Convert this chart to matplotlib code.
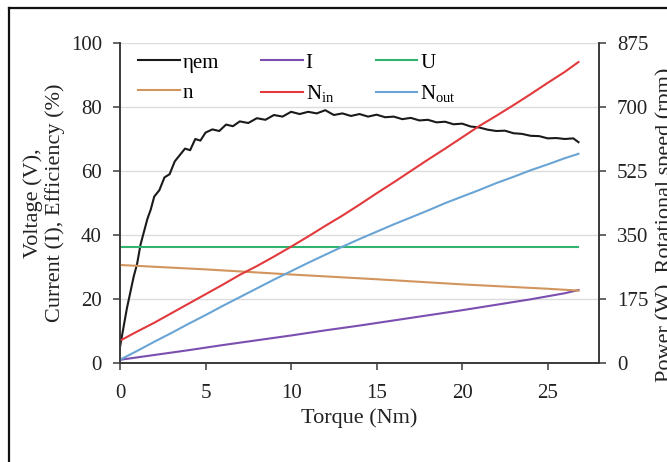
import matplotlib
matplotlib.use('Agg')
import matplotlib.pyplot as plt
from matplotlib.lines import Line2D

plt.rcParams['font.family'] = ['Liberation Serif', 'DejaVu Serif']
plt.rcParams['mathtext.fontset'] = 'custom'
plt.rcParams['mathtext.rm'] = 'Liberation Serif'

# ---- data ----
# efficiency (%), left axis
t_eta = [0, 0.2, 0.4, 0.6, 0.8, 1.0, 1.2, 1.4, 1.6, 1.8, 2.0, 2.3, 2.6, 2.9, 3.2,
         3.5, 3.8, 4.1, 4.4, 4.7, 5.0, 5.4, 5.8, 6.2, 6.6, 7.0, 7.5, 8.0, 8.5, 9.0,
         9.5, 10.0, 10.5, 11.0, 11.5, 12.0, 12.5, 13.0, 13.5, 14.0, 14.5, 15.0,
         15.5, 16.0, 16.5, 17.0, 17.5, 18.0, 18.5, 19.0, 19.5, 20.0, 20.5, 21.0,
         21.5, 22.0, 22.5, 23.0, 23.5, 24.0, 24.5, 25.0, 25.5, 26.0, 26.5, 26.8]
eta = [5, 11, 17, 22, 27, 31, 37, 41, 45, 48, 52, 54, 58, 59, 63,
       65, 67, 66.5, 70, 69.5, 72, 73, 72.5, 74.5, 74, 75.5, 75, 76.5, 76, 77.5,
       77, 78.5, 77.8, 78.5, 78, 79, 77.5, 78, 77.2, 77.8, 77, 77.6,
       76.8, 77, 76.2, 76.6, 75.8, 76, 75.2, 75.4, 74.6, 74.8, 73.9, 73.6,
       72.9, 72.5, 72.6, 71.8, 71.6, 71, 70.9, 70.2, 70.3, 70, 70.2, 69]

# current (A), left axis
t_i = [0, 2, 4, 6, 8, 10, 12, 14, 16, 18, 20, 22, 24, 26, 26.8]
current = [1, 2.5, 4, 5.6, 7.1, 8.6, 10.2, 11.7, 13.3, 14.9, 16.5, 18.2, 19.9, 21.8, 22.8]

# voltage (V), left axis
t_u = [0, 26.8]
voltage = [36.1, 36.1]

# speed (rpm), right axis
t_n = [0, 5, 10, 15, 20, 25, 26.8]
speed = [268, 256, 242, 229, 215, 203, 198]

# input / output power (W), right axis
t_p = [0, 1, 2, 3, 4, 5, 6, 7, 8, 9, 10, 11, 12, 13, 14, 15, 16, 17, 18, 19, 20,
       21, 22, 23, 24, 25, 26, 26.8]
p_in = [61, 86, 110, 136, 162, 188, 214, 241, 265, 291, 318, 346, 375, 403, 433,
        464, 494, 525, 556, 586, 617, 648, 676, 705, 735, 766, 796, 823]
p_out = [9, 33, 58, 82, 107, 131, 156, 180, 204, 228, 251, 274, 296, 318, 339,
         359, 379, 398, 417, 437, 455, 473, 492, 509, 527, 543, 560, 572]

left_ticks = [0, 20, 40, 60, 80, 100]
right_ticks = [0, 175, 350, 525, 700, 875]
x_ticks = [0, 5, 10, 15, 20, 25]

fig = plt.figure(figsize=(6.67, 4.62), dpi=100)
ax = fig.add_axes([120 / 667, 1 - 363 / 462, 479 / 667, 320 / 462])
ax2 = ax.twinx()

lw = 1.5
l_eta, = ax.plot(t_eta, eta, color='#1a1a1a', lw=lw, label='ηem')
l_i, = ax.plot(t_i, current, color='#7a4fb0', lw=lw, label='I')
l_u, = ax.plot(t_u, voltage, color='#2fb36e', lw=lw, label='U')
l_n, = ax2.plot(t_n, speed, color='#d2955e', lw=lw, label='n')
l_in, = ax2.plot(t_p, p_in, color='#e2393c', lw=lw, label=r'$\mathregular{N_{in}}$')
l_out, = ax2.plot(t_p, p_out, color='#6aa4d4', lw=lw, label=r'$\mathregular{N_{out}}$')

ax.set_xlim(0, 28)
ax.set_ylim(0, 100)
ax2.set_ylim(0, 875)
ax.set_xticks(x_ticks)
ax.set_yticks(left_ticks)
ax2.set_yticks(right_ticks)
ax.yaxis.grid(True, color='#dcdcdc', lw=1)
ax.set_axisbelow(True)

for a in (ax, ax2):
    a.spines['top'].set_visible(False)
    for s in ('left', 'right', 'bottom'):
        a.spines[s].set_color('#3a3a3a')
        a.spines[s].set_linewidth(1.2)
    a.tick_params(direction='out', length=5, width=1.1, color='#3a3a3a',
                  labelsize=15, labelcolor='#222222', pad=8)
ax.tick_params(axis='x', pad=10)

ax.set_xlabel('Torque (Nm)', fontsize=16, color='#222222', labelpad=4)
fig.text(44 / 667, 1 - 203 / 462, 'Voltage (V),\nCurrent (I), Efficiency (%)',
         rotation=90, ha='center', va='center', multialignment='center',
         fontsize=16, color='#222222', linespacing=1.1)
fig.text(655 / 667, 1 - 225 / 462, 'Power (W), Rotational speed (rpm)',
         rotation=90, ha='left', va='center', fontsize=16, color='#222222')

# column-major order so the rows read: eta, I, U / n, Nin, Nout
handles = [l_eta, l_n, l_i, l_in, l_u, l_out]
leg = ax.legend(handles=handles, ncol=3, loc='upper left',
                bbox_to_anchor=(18 / 479, 1 - 10 / 320), frameon=False,
                fontsize=15, handlelength=2.0, handletextpad=0.15,
                columnspacing=2.0, labelspacing=0.5, borderpad=0,
                borderaxespad=0)

# frame of the original picture (only top and left edges visible)
fig.add_artist(Line2D([9 / 667, 9 / 667], [0, 1 - 8 / 462], color='#111111', lw=1.6))
fig.add_artist(Line2D([9 / 667, 1], [1 - 8 / 462, 1 - 8 / 462], color='#111111', lw=1.6))

fig.savefig('out.png', dpi=100)
